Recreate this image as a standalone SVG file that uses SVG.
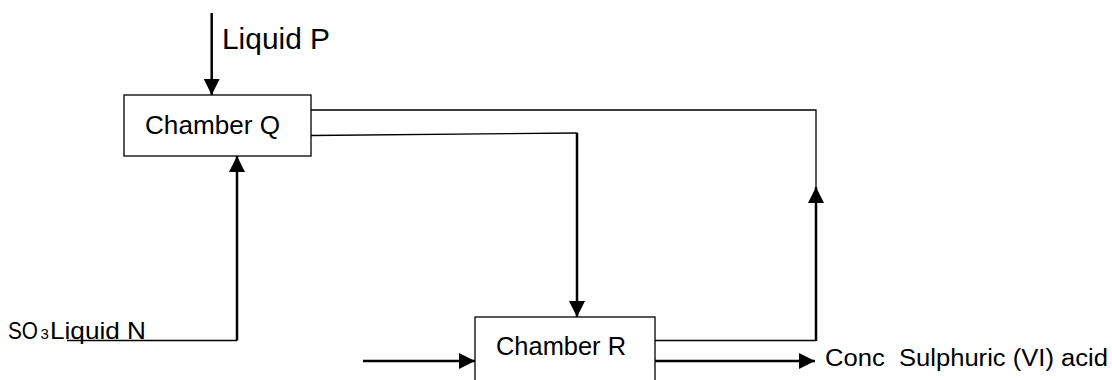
<svg xmlns="http://www.w3.org/2000/svg" width="1112" height="380" viewBox="0 0 1112 380">
<style>
text{font-family:"Liberation Sans",Arial,sans-serif;fill:#000}
.box{fill:#fff;stroke:#000;stroke-width:1.3}
.thin{fill:none;stroke:#000;stroke-width:1.3}
.thick{fill:none;stroke:#000;stroke-width:2.5}
</style>
<defs>
<marker id="ah" markerUnits="userSpaceOnUse" markerWidth="17" markerHeight="16" refX="16" refY="8" orient="auto">
<path d="M0,0 L16,8 L0,16 Z" fill="#000"/>
</marker>
</defs>
<rect width="1112" height="380" fill="#fff"/>
<g id="connectors">
<line class="thick" x1="211.7" y1="13" x2="211.7" y2="95" marker-end="url(#ah)"/>
<polyline class="thin" points="67,340.5 237,340.5"/>
<line class="thick" x1="237" y1="340.5" x2="237" y2="156" marker-end="url(#ah)"/>
<polyline class="thin" points="311,110 816,110 816,187"/>
<polyline class="thin" points="311,135.5 577.5,133"/>
<line class="thick" x1="577" y1="133" x2="577" y2="317" marker-end="url(#ah)"/>
<polyline class="thin" points="655,340.5 816,340.5"/>
<line class="thick" x1="816" y1="341" x2="816" y2="187" marker-end="url(#ah)"/>
<line class="thick" x1="363" y1="361" x2="475" y2="361" marker-end="url(#ah)"/>
<line class="thick" x1="655" y1="361" x2="815" y2="361" marker-end="url(#ah)"/>
</g>
<g id="chamberQ">
<rect class="box" x="124" y="95" width="187" height="61"/>
<text x="145" y="134" font-size="25" textLength="135" lengthAdjust="spacingAndGlyphs">Chamber Q</text>
</g>
<g id="chamberR">
<rect class="box" x="475" y="317" width="180" height="90"/>
<text x="496" y="355" font-size="25" textLength="130" lengthAdjust="spacingAndGlyphs">Chamber R</text>
</g>
<g id="liquidP">
<text x="222" y="49" font-size="29" textLength="108" lengthAdjust="spacingAndGlyphs">Liquid P</text>
</g>
<g id="so3">
<text y="339" font-size="24"><tspan x="8" textLength="30" lengthAdjust="spacingAndGlyphs">SO</tspan><tspan x="40.5" font-size="15">3</tspan><tspan x="50" textLength="96" lengthAdjust="spacingAndGlyphs">Liquid N</tspan></text>
</g>
<g id="product">
<text x="825" y="366" font-size="23" textLength="283" lengthAdjust="spacingAndGlyphs" xml:space="preserve">Conc  Sulphuric (VI) acid</text>
</g>
</svg>
